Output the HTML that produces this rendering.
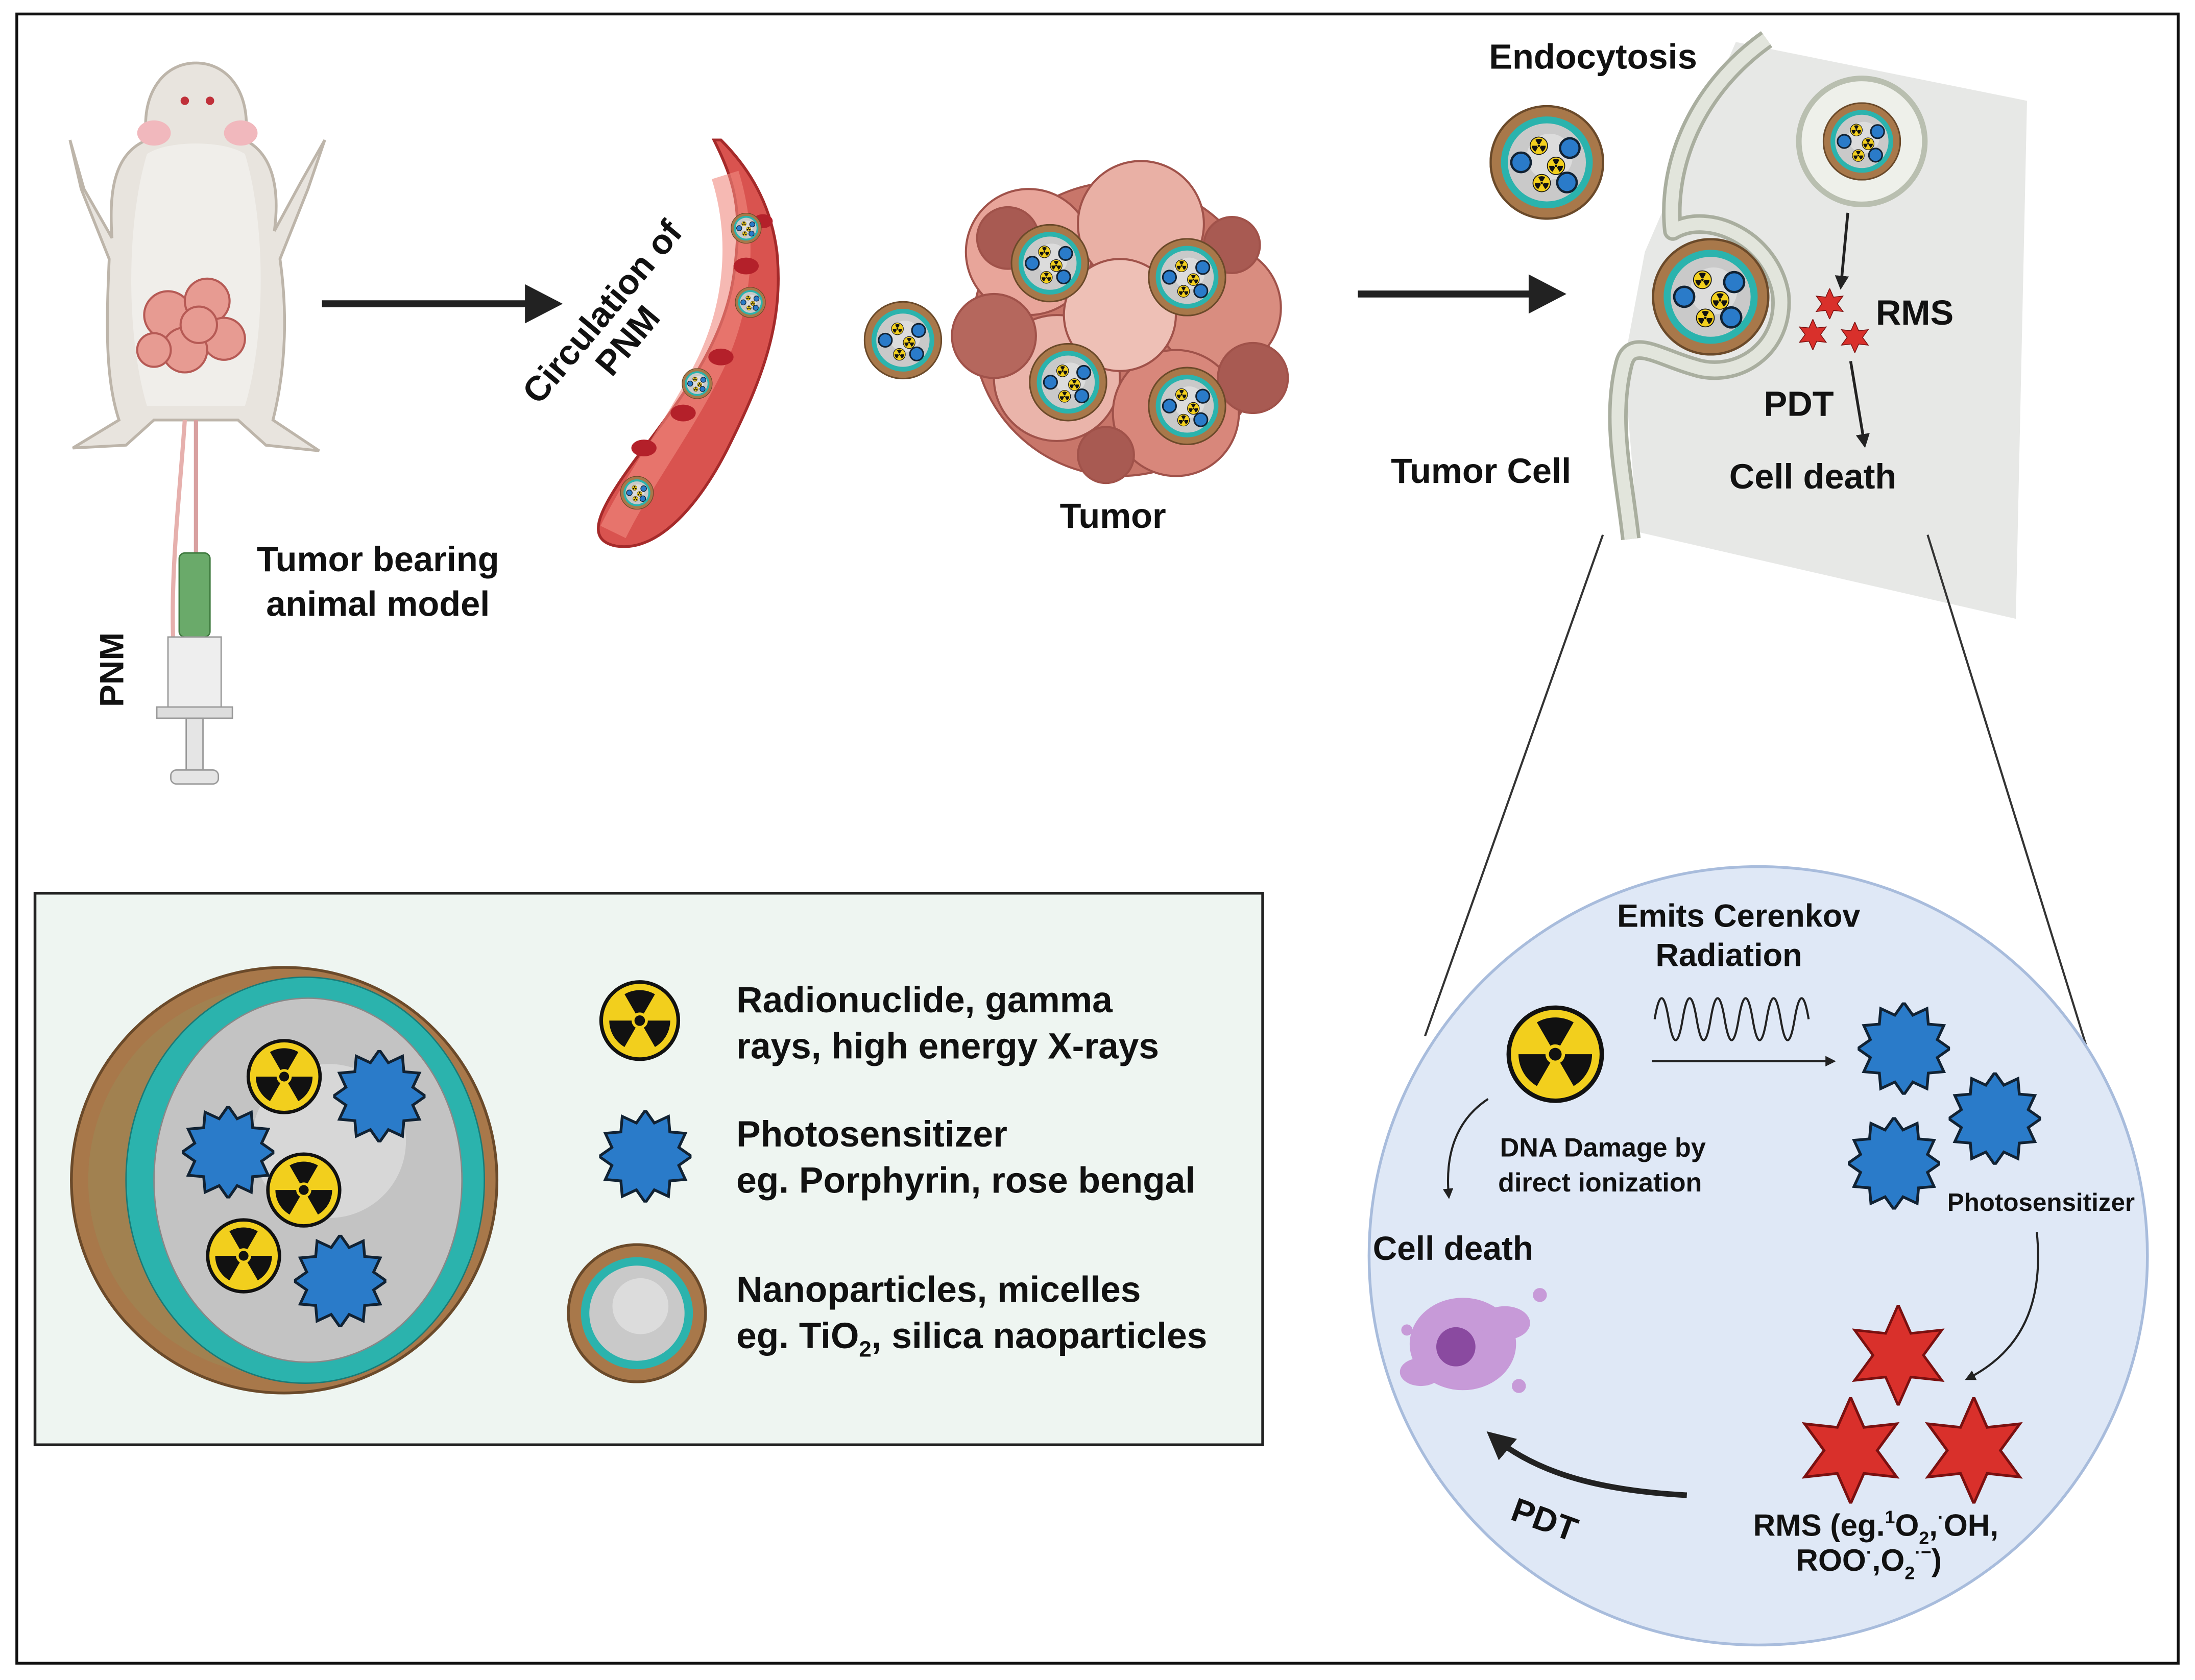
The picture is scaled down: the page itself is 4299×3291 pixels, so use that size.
<!DOCTYPE html>
<html><head><meta charset="utf-8"><style>
html,body{margin:0;padding:0;background:#fff;}
svg{display:block;}
text{font-family:"Liberation Sans",sans-serif;font-weight:bold;fill:#111;}
</style></head><body>
<svg width="4299" height="3291" viewBox="0 0 1568 1200" preserveAspectRatio="none" xmlns="http://www.w3.org/2000/svg">
<defs>
<symbol id="rad" viewBox="-1 -1 2 2">
<circle r="0.95" fill="#f2cf1d" stroke="#111" stroke-width="0.09"/>
<g fill="#111">
<path id="sec" d="M-.1,-.173 L-.375,-.65 A.75,.75 0 0 1 .375,-.65 L.1,-.173 A.2,.2 0 0 0 -.1,-.173Z"/>
<use href="#sec" transform="rotate(120)"/><use href="#sec" transform="rotate(240)"/>
<circle r="0.13"/></g>
</symbol>
<symbol id="ps" viewBox="-1 -1 2 2">
<polygon fill="#2a7bc9" stroke="#123" stroke-width="0.06" points="1,0 .724,.194 .866,.5 .53,.53 .5,.866 .194,.724 0,1 -.194,.724 -.5,.866 -.53,.53 -.866,.5 -.724,.194 -1,0 -.724,-.194 -.866,-.5 -.53,-.53 -.5,-.866 -.194,-.724 0,-1 .194,-.724 .5,-.866 .53,-.53 .866,-.5 .724,-.194"/>
</symbol>
<symbol id="rms" viewBox="-1 -1 2 2">
<polygon fill="#d9302b" stroke="#7a1010" stroke-width="0.05" points="0,-1 .25,-.433 .866,-.5 .5,0 .866,.5 .25,.433 0,1 -.25,.433 -.866,.5 -.5,0 -.866,-.5 -.25,-.433"/>
</symbol>
<symbol id="np" viewBox="-1 -1 2 2">
<circle r="0.98" fill="#a8784a" stroke="#6b4a2a" stroke-width="0.04"/>
<circle r="0.8" fill="#2bb3ad"/>
<circle r="0.68" fill="#c9c9c9"/>
<circle cx="0.05" cy="-0.1" r="0.4" fill="#dcdcdc"/>
</symbol>
<symbol id="pnm" viewBox="-1 -1 2 2">
<use href="#np" x="-1" y="-1" width="2" height="2"/>
<use href="#rad" x="-0.3" y="-0.45" width="0.32" height="0.32"/>
<use href="#rad" x="0.0" y="-0.1" width="0.32" height="0.32"/>
<use href="#rad" x="-0.25" y="0.2" width="0.32" height="0.32"/>
<circle cx="-0.45" cy="0" r="0.17" fill="#2a7bc9" stroke="#123" stroke-width="0.04"/>
<circle cx="0.4" cy="-0.25" r="0.17" fill="#2a7bc9" stroke="#123" stroke-width="0.04"/>
<circle cx="0.35" cy="0.35" r="0.17" fill="#2a7bc9" stroke="#123" stroke-width="0.04"/>
</symbol>
<marker id="ah" viewBox="0 0 10 10" refX="8" refY="5" markerWidth="5" markerHeight="5" orient="auto"><path d="M0,0 L10,5 L0,10z" fill="#222"/></marker>
</defs>

<rect x="12" y="10" width="1544" height="1178" fill="#fff" stroke="#111" stroke-width="2"/>

<!-- mouse -->
<g>
<path d="M140,45 C115,45 100,70 105,100 C80,110 78,140 80,170 L60,135 L50,100 L58,135 L78,185 C76,230 75,270 85,300 L52,320 L90,318 L110,300 L170,300 L190,318 L228,322 L195,300 C205,260 205,220 200,185 L220,135 L232,100 L215,130 L196,165 C200,135 195,110 175,100 C180,70 165,45 140,45Z" fill="#e8e4de" stroke="#bdb5aa" stroke-width="2"/>
<path d="M105,110 C120,100 160,100 175,110 C190,160 190,240 175,290 L105,290 C90,240 90,160 105,110Z" fill="#f0eeea"/>
<ellipse cx="110" cy="95" rx="12" ry="9" fill="#f1b8bd"/><ellipse cx="172" cy="95" rx="12" ry="9" fill="#f1b8bd"/>
<circle cx="132" cy="72" r="3" fill="#c0303a"/><circle cx="150" cy="72" r="3" fill="#c0303a"/>
<g fill="#e79b92" stroke="#b65a55" stroke-width="1.5">
<circle cx="120" cy="225" r="17"/><circle cx="148" cy="215" r="16"/><circle cx="160" cy="242" r="15"/><circle cx="132" cy="250" r="16"/><circle cx="110" cy="250" r="12"/><circle cx="142" cy="232" r="13"/>
</g>
<path d="M140,300 L140,395" stroke="#d8a0a0" stroke-width="3" fill="none"/>
<path d="M132,300 C128,360 120,420 125,480" stroke="#e6b0ad" stroke-width="3" fill="none"/>
</g>
<!-- syringe -->
<rect x="128" y="395" width="22" height="60" rx="4" fill="#6aaa6a" stroke="#3f7a3f"/>
<rect x="120" y="455" width="38" height="55" fill="#eeeeee" stroke="#999"/>
<rect x="112" y="505" width="54" height="8" fill="#ddd" stroke="#999"/>
<rect x="133" y="513" width="12" height="40" fill="#e5e5e5" stroke="#999"/>
<rect x="122" y="550" width="34" height="10" rx="4" fill="#e5e5e5" stroke="#999"/>
<text x="0" y="0" font-size="24" transform="translate(88,505) rotate(-90)">PNM</text>
<text x="270" y="408" font-size="25" text-anchor="middle">Tumor bearing</text>
<text x="270" y="440" font-size="25" text-anchor="middle">animal model</text>

<line x1="230" y1="217" x2="385" y2="217" stroke="#222" stroke-width="5"/>
<polygon points="375,203 402,217 375,231" fill="#222"/>

<!-- vessel -->
<path d="M510,100 C525,130 530,150 525,190 C520,240 490,280 460,320 C430,360 415,385 440,390 C470,395 500,360 520,320 C545,270 560,230 555,180 C550,140 530,115 515,100Z" fill="#d9534f" stroke="#a52a2a" stroke-width="2"/>
<path d="M518,125 C532,170 528,220 505,265 C485,305 455,345 438,380" stroke="#f08a80" stroke-width="20" fill="none" opacity="0.6"/>
<g fill="#b4202a"><ellipse cx="533" cy="190" rx="9" ry="6"/><ellipse cx="515" cy="255" rx="9" ry="6"/><ellipse cx="488" cy="295" rx="9" ry="6"/><ellipse cx="460" cy="320" rx="9" ry="6"/><ellipse cx="545" cy="158" rx="7" ry="5"/></g>
<use href="#pnm" x="522" y="152" width="22" height="22"/>
<use href="#pnm" x="525" y="205" width="22" height="22"/>
<use href="#pnm" x="487" y="263" width="22" height="22"/>
<use href="#pnm" x="443" y="340" width="24" height="24"/>
<text font-size="25" transform="translate(385,290) rotate(-50)">Circulation of</text>
<text font-size="25" transform="translate(437,270) rotate(-50)">PNM</text>

<use href="#pnm" x="617" y="215" width="56" height="56"/>

<!-- tumor -->
<g stroke="#a0524a" stroke-width="1.5">
<circle cx="800" cy="235" r="105" fill="#c8766a"/>
<circle cx="735" cy="180" r="45" fill="#e8a59a"/><circle cx="815" cy="160" r="45" fill="#e9b0a5"/><circle cx="870" cy="220" r="45" fill="#d98d80"/>
<circle cx="755" cy="270" r="45" fill="#eab4aa"/><circle cx="840" cy="295" r="45" fill="#d8877b"/><circle cx="800" cy="225" r="40" fill="#eec0b6"/>
<circle cx="710" cy="240" r="30" fill="#b5675d"/><circle cx="895" cy="270" r="25" fill="#a85a52"/>
<circle cx="720" cy="170" r="22" fill="#a85a52"/><circle cx="880" cy="175" r="20" fill="#a85a52"/><circle cx="790" cy="325" r="20" fill="#a85a52"/>
</g>
<use href="#pnm" x="722" y="160" width="56" height="56"/>
<use href="#pnm" x="820" y="170" width="56" height="56"/>
<use href="#pnm" x="735" y="245" width="56" height="56"/>
<use href="#pnm" x="820" y="262" width="56" height="56"/>
<text x="795" y="377" font-size="25" text-anchor="middle">Tumor</text>

<line x1="970" y1="210" x2="1100" y2="210" stroke="#222" stroke-width="5"/>
<polygon points="1092,196 1119,210 1092,224" fill="#222"/>

<!-- cell -->
<polygon points="1240,30 1448,72 1440,442 1170,380 1160,260 1175,180" fill="#e7e8e6"/>
<path d="M1262,28 C1210,65 1190,120 1195,165 C1220,150 1265,170 1272,210 C1276,250 1240,272 1210,262 C1185,255 1165,240 1160,260 C1150,300 1160,340 1165,385" fill="none" stroke="#a9ae9f" stroke-width="14" stroke-linejoin="round"/>
<path d="M1262,28 C1210,65 1190,120 1195,165 C1220,150 1265,170 1272,210 C1276,250 1240,272 1210,262 C1185,255 1165,240 1160,260 C1150,300 1160,340 1165,385" fill="none" stroke="#e2e5dc" stroke-width="9" stroke-linejoin="round"/>
<use href="#pnm" x="1180" y="170" width="84" height="84"/>
<circle cx="1330" cy="101" r="45" fill="#eef0ea" stroke="#b9bfb0" stroke-width="4"/>
<use href="#pnm" x="1302" y="73" width="56" height="56"/>
<use href="#pnm" x="1064" y="75" width="82" height="82"/>
<text x="1138" y="49" font-size="25" text-anchor="middle">Endocytosis</text>
<line x1="1320" y1="152" x2="1315" y2="205" stroke="#222" stroke-width="2" marker-end="url(#ah)"/>
<use href="#rms" x="1296" y="206" width="22" height="22"/>
<use href="#rms" x="1284" y="228" width="22" height="22"/>
<use href="#rms" x="1314" y="230" width="22" height="22"/>
<text x="1340" y="232" font-size="25">RMS</text>
<line x1="1322" y1="258" x2="1332" y2="318" stroke="#222" stroke-width="2" marker-end="url(#ah)"/>
<text x="1285" y="297" font-size="25" text-anchor="middle">PDT</text>
<text x="1295" y="349" font-size="25" text-anchor="middle">Cell death</text>
<text x="1058" y="345" font-size="25" text-anchor="middle">Tumor Cell</text>

<line x1="1145" y1="382" x2="1018" y2="740" stroke="#333" stroke-width="1.5"/>
<line x1="1377" y1="382" x2="1490" y2="746" stroke="#333" stroke-width="1.5"/>

<!-- zoom circle -->
<circle cx="1256" cy="897" r="278" fill="#dfe8f6" stroke="#a8bcdc" stroke-width="2"/>
<text x="1242" y="662" font-size="23" text-anchor="middle">Emits Cerenkov</text>
<text x="1235" y="690" font-size="23" text-anchor="middle">Radiation</text>
<path d="M1182,728 q5,-30 10,0 t10,0 t10,0 t10,0 t10,0 t10,0 t10,0 t10,0 t10,0 t10,0 t10,0" fill="none" stroke="#222" stroke-width="1.5"/>
<use href="#rad" x="1076" y="718" width="70" height="70"/>
<line x1="1180" y1="758" x2="1310" y2="758" stroke="#222" stroke-width="1.5" marker-end="url(#ah)"/>
<use href="#ps" x="1327" y="716" width="66" height="66"/>
<use href="#ps" x="1392" y="766" width="66" height="66"/>
<use href="#ps" x="1320" y="798" width="66" height="66"/>
<text x="1145" y="826" font-size="19" text-anchor="middle">DNA Damage by</text>
<text x="1143" y="851" font-size="19" text-anchor="middle">direct ionization</text>
<text x="1458" y="865" font-size="18" text-anchor="middle">Photosensitizer</text>
<path d="M1063,785 C1040,800 1032,825 1035,855" fill="none" stroke="#222" stroke-width="1.5" marker-end="url(#ah)"/>
<text x="1038" y="900" font-size="24" text-anchor="middle">Cell death</text>
<g fill="#c79ad8">
<ellipse cx="1045" cy="960" rx="38" ry="33"/><ellipse cx="1075" cy="945" rx="18" ry="12"/><ellipse cx="1015" cy="980" rx="15" ry="10"/>
<circle cx="1040" cy="962" r="14" fill="#8a4aa0"/>
<circle cx="1085" cy="990" r="5"/><circle cx="1100" cy="925" r="5"/><circle cx="1005" cy="950" r="4"/>
</g>
<path d="M1455,880 C1460,930 1445,965 1405,985" fill="none" stroke="#222" stroke-width="1.5" marker-end="url(#ah)"/>
<use href="#rms" x="1320" y="932" width="72" height="72"/>
<use href="#rms" x="1284" y="998" width="76" height="76"/>
<use href="#rms" x="1372" y="998" width="76" height="76"/>
<path d="M1205,1068 C1150,1065 1100,1055 1065,1025" fill="none" stroke="#222" stroke-width="4" marker-end="url(#ah)"/>
<text font-size="24" transform="translate(1078,1085) rotate(20)">PDT</text>
<text x="1340" y="1097" font-size="22" text-anchor="middle">RMS (eg.<tspan font-size="13" dy="-9">1</tspan><tspan dy="9">O</tspan><tspan font-size="13" dy="6">2</tspan><tspan dy="-6">,</tspan><tspan font-size="13" dy="-9">·</tspan><tspan dy="9">OH,</tspan></text>
<text x="1335" y="1122" font-size="22" text-anchor="middle">ROO<tspan font-size="13" dy="-9">·</tspan><tspan dy="9">,O</tspan><tspan font-size="13" dy="6">2</tspan><tspan font-size="13" dy="-15">·−</tspan><tspan dy="9">)</tspan></text>

<!-- legend -->
<rect x="25" y="638" width="877" height="394" fill="#eef5f1" stroke="#222" stroke-width="2"/>
<circle cx="203" cy="843" r="152" fill="#a8784a" stroke="#6b4a2a" stroke-width="2"/>
<circle cx="203" cy="843" r="140" fill="#9a8a55" opacity="0.5"/>
<ellipse cx="218" cy="843" rx="128" ry="145" fill="#2bb3ad" stroke="#1a7a76"/>
<ellipse cx="220" cy="843" rx="110" ry="130" fill="#c3c3c3" stroke="#888"/>
<circle cx="235" cy="815" r="55" fill="#d7d7d7"/>
<use href="#rad" x="176" y="742" width="54" height="54"/>
<use href="#rad" x="190" y="823" width="54" height="54"/>
<use href="#rad" x="147" y="870" width="54" height="54"/>
<use href="#ps" x="238" y="750" width="66" height="66"/>
<use href="#ps" x="130" y="790" width="66" height="66"/>
<use href="#ps" x="210" y="882" width="66" height="66"/>
<use href="#rad" x="428" y="700" width="58" height="58"/>
<use href="#ps" x="428" y="793" width="66" height="66"/>
<use href="#np" x="405" y="888" width="100" height="100"/>
<g font-size="26">
<text x="526" y="723">Radionuclide, gamma</text>
<text x="526" y="756">rays, high energy X-rays</text>
<text x="526" y="819">Photosensitizer</text>
<text x="526" y="852">eg. Porphyrin, rose bengal</text>
<text x="526" y="930">Nanoparticles, micelles</text>
<text x="526" y="963">eg. TiO<tspan font-size="16" dy="6">2</tspan><tspan dy="-6">, silica naoparticles</tspan></text>
</g>
</svg>
</body></html>
